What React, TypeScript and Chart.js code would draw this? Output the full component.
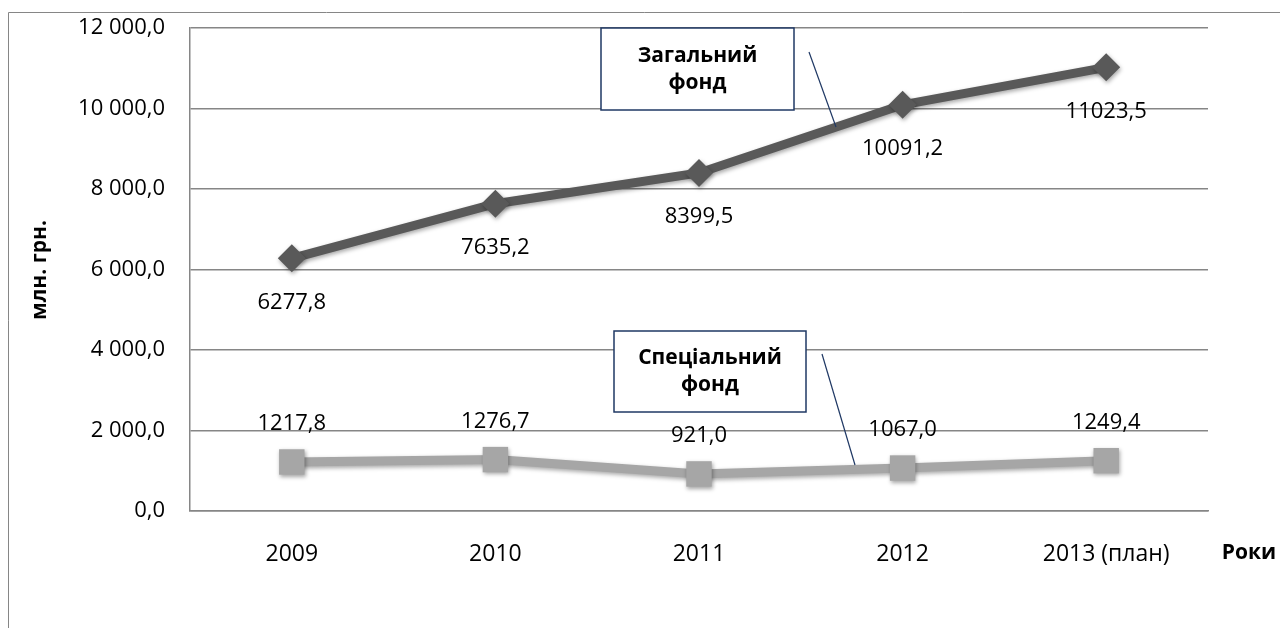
import React, { useEffect, useRef } from "react";
import { Chart, registerables } from "chart.js";

Chart.register(...registerables);

const categories = ["2009", "2010", "2011", "2012", "2013 (план)"];
const generalFund = [6277.8, 7635.2, 8399.5, 10091.2, 11023.5];
const specialFund = [1217.8, 1276.7, 921.0, 1067.0, 1249.4];
const yTicks = [0, 2000, 4000, 6000, 8000, 10000, 12000];
const generalName = ["Загальний", "фонд"];
const specialName = ["Спеціальний", "фонд"];
const yTitle = "млн. грн.";
const xTitle = "Роки";

const FONT = "'Open Sans', 'Noto Sans', sans-serif";

const fmtTick = (v: number) => {
  const s = v.toFixed(1).replace(".", ",");
  const [int, dec] = s.split(",");
  return int.replace(/\B(?=(\d{3})+(?!\d))/g, " ") + "," + dec;
};
const fmtVal = (v: number) => v.toFixed(1).replace(".", ",");

const overlay = {
  id: "overlay",
  beforeDraw(chart: any) {
    const ctx = chart.ctx;
    ctx.save();
    ctx.strokeStyle = "#868686";
    ctx.lineWidth = 1;
    ctx.beginPath();
    ctx.moveTo(8.5, 700);
    ctx.lineTo(8.5, 12.5);
    ctx.lineTo(1290, 12.5);
    ctx.stroke();
    ctx.restore();
  },
  beforeDatasetsDraw(chart: any) {
    chart.ctx.save();
    chart.ctx.shadowColor = "rgba(0,0,0,0.35)";
    chart.ctx.shadowBlur = 4;
    chart.ctx.shadowOffsetX = 1;
    chart.ctx.shadowOffsetY = 2;
  },
  afterDatasetsDraw(chart: any) {
    chart.ctx.restore();
    const ctx = chart.ctx;
    ctx.save();
    ctx.font = `22px ${FONT}`;
    ctx.fillStyle = "#000";
    ctx.textAlign = "center";
    ctx.textBaseline = "middle";
    const offs = [44, -38];
    chart.data.datasets.forEach((ds: any, di: number) => {
      const meta = chart.getDatasetMeta(di);
      meta.data.forEach((pt: any, i: number) => {
        ctx.fillText(fmtVal(ds.data[i]), pt.x, pt.y + offs[di]);
      });
    });

    const box = (x: number, y: number, w: number, h: number, lines: string[], lx1: number, ly1: number, lx2: number, ly2: number) => {
      ctx.fillStyle = "#fff";
      ctx.fillRect(x, y, w, h);
      ctx.strokeStyle = "#1F3864";
      ctx.lineWidth = 1.5;
      ctx.strokeRect(x, y, w, h);
      ctx.fillStyle = "#000";
      ctx.font = `bold 21px ${FONT}`;
      ctx.fillText(lines[0], x + w / 2, y + h / 2 - 13);
      ctx.fillText(lines[1], x + w / 2, y + h / 2 + 14);
      ctx.beginPath();
      ctx.lineWidth = 1.2;
      ctx.moveTo(lx1, ly1);
      ctx.lineTo(lx2, ly2);
      ctx.stroke();
    };
    box(601, 28, 193, 82, generalName, 809, 52, 836, 127);
    box(614, 331, 192, 81, specialName, 822, 354, 855, 465);

    ctx.fillStyle = "#000";
    ctx.font = `bold 21px ${FONT}`;
    ctx.save();
    ctx.translate(40, 270);
    ctx.rotate(-Math.PI / 2);
    ctx.fillText(yTitle, 0, 0);
    ctx.restore();
    ctx.fillText(xTitle, 1249, 553);
    ctx.restore();
  },
};

export default function App() {
  const ref = useRef<HTMLCanvasElement>(null);
  useEffect(() => {
    document.body.style.margin = "0";
    const chart = new Chart(ref.current!, {
      type: "line",
      data: {
        labels: categories,
        datasets: [
          {
            label: generalName.join(" "),
            data: generalFund,
            borderColor: "#595959",
            backgroundColor: "#595959",
            borderWidth: 9,
            pointStyle: "rectRot",
            pointRadius: 14,
            pointBorderWidth: 0,
            tension: 0,
          },
          {
            label: specialName.join(" "),
            data: specialFund,
            borderColor: "#A6A6A6",
            backgroundColor: "#A6A6A6",
            borderWidth: 9,
            pointStyle: "rect",
            pointRadius: 18,
            pointBorderWidth: 0,
            tension: 0,
          },
        ],
      },
      options: {
        responsive: false,
        animation: false,
        devicePixelRatio: 1,
        layout: { autoPadding: false, padding: { left: 0, right: 72, top: 28, bottom: 0 } },
        plugins: { legend: { display: false }, tooltip: { enabled: false } },
        scales: {
          x: {
            offset: true,
            grid: { display: false, drawTicks: false },
            border: { display: true, color: "#868686", width: 1.5 },
            ticks: { color: "#000", font: { family: FONT, size: 23 }, padding: 30, maxRotation: 0 },
            afterFit: (s: any) => { s.height = 117; s.paddingLeft = 0; s.paddingRight = 0; },
          },
          y: {
            min: 0,
            max: 12000,
            afterBuildTicks: (s: any) => { s.ticks = yTicks.map((v) => ({ value: v })); },
            grid: { color: "#868686", lineWidth: 1.5, drawTicks: false },
            border: { display: true, color: "#868686", width: 1.5 },
            ticks: { color: "#000", font: { family: FONT, size: 22 }, padding: 25, callback: (v: any) => fmtTick(Number(v)) },
            afterFit: (s: any) => { s.width = 190; s.paddingTop = 0; s.paddingBottom = 0; },
          },
        },
      },
      plugins: [overlay],
    });
    return () => chart.destroy();
  }, []);
  return <canvas ref={ref} width={1280} height={628} style={{ display: "block" }} />;
}
